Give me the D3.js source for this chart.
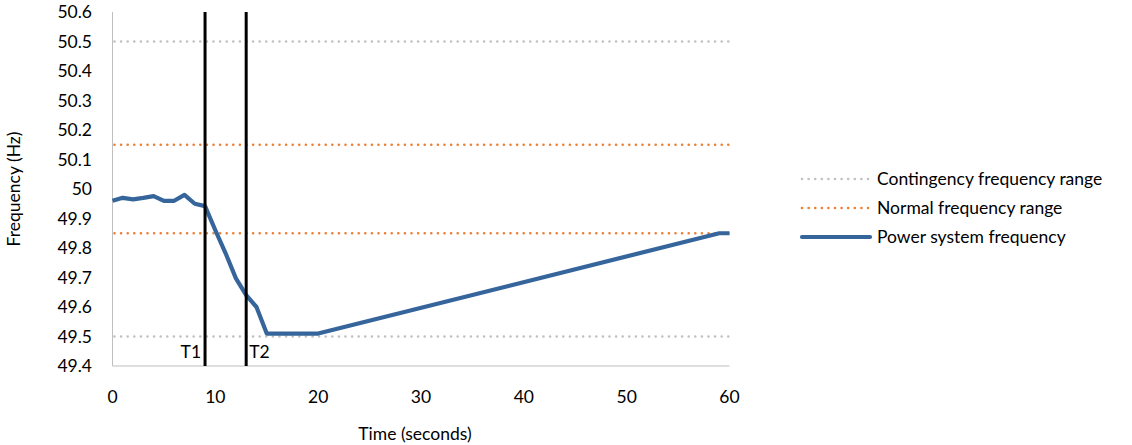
<!DOCTYPE html>
<html><head><meta charset="utf-8">
<script src="https://cdn.jsdelivr.net/npm/d3@7"></script>
<style>
body{margin:0;background:#fff;}
text{font-family:Lato, "Open Sans", sans-serif;fill:#000;}
</style></head>
<body><svg id="c" width="1132" height="445"></svg>
<script>
const timeVals = [0,1,2,3,4,5,6,7,8,9,10,11,12,13,14,15,16,17,18,19,20,59,60];
const freqVals = [49.96,49.97,49.965,49.97,49.976,49.96,49.96,49.98,49.95,49.942,49.86,49.782,49.697,49.64,49.60,49.51,49.51,49.51,49.51,49.51,49.51,49.85,49.85];
const contingency = [49.5, 50.5];
const normal = [49.85, 50.15];
const markers = [{t:9,label:"T1"},{t:13,label:"T2"}];
const xTicks = [0,10,20,30,40,50,60];
const yTicks = [49.4,49.5,49.6,49.7,49.8,49.9,50,50.1,50.2,50.3,50.4,50.5,50.6];
const legendItems = ["Contingency frequency range","Normal frequency range","Power system frequency"];

const FS = "17.5px";
const svg = d3.select("#c");
const x = d3.scaleLinear().domain([0,60]).range([112.5,729.5]);
const y = d3.scaleLinear().domain([49.4,50.6]).range([366,12]);

const g = svg.append("g");
g.append("line").attr("x1",x(0)).attr("x2",x(0)).attr("y1",y(50.6)).attr("y2",y(49.4)).attr("stroke","#bfbfbf").attr("stroke-width",1);
g.append("line").attr("x1",x(0)).attr("x2",x(60)).attr("y1",y(49.4)).attr("y2",y(49.4)).attr("stroke","#bfbfbf").attr("stroke-width",1);

g.selectAll(".yt").data(yTicks).enter().append("text")
 .attr("x",92).attr("y",d=>y(d)).attr("dy","0.35em").attr("text-anchor","end")
 .style("font-size",FS).text(d=>+d.toFixed(1));
g.selectAll(".xt").data(xTicks).enter().append("text")
 .attr("x",d=>x(d)).attr("y",397).attr("dy","0.35em").attr("text-anchor","middle")
 .style("font-size",FS).text(d=>d);

const dotted = (sel,color)=>sel.attr("stroke",color).attr("stroke-width",2.6).attr("stroke-dasharray","0,6.6").attr("stroke-linecap","round").attr("fill","none");
contingency.forEach(v=>dotted(g.append("line").attr("x1",x(0)+2).attr("x2",x(60)).attr("y1",y(v)).attr("y2",y(v)),"#c0c0c0"));
normal.forEach(v=>dotted(g.append("line").attr("x1",x(0)+2).attr("x2",x(60)).attr("y1",y(v)).attr("y2",y(v)),"#ed7d31"));

const data = timeVals.map((t,i)=>[t,freqVals[i]]);
g.append("path").datum(data).attr("fill","none").attr("stroke","#35659b").attr("stroke-width",4.2)
 .attr("stroke-linejoin","round")
 .attr("d",d3.line().x(d=>x(d[0])).y(d=>y(d[1])));

markers.forEach((m,i)=>{
  g.append("line").attr("x1",x(m.t)).attr("x2",x(m.t)).attr("y1",y(50.6)).attr("y2",y(49.4)).attr("stroke","#000").attr("stroke-width",3);
  g.append("text").attr("x",i===0?x(m.t)-4:x(m.t)+3).attr("y",352).attr("dy","0.35em")
   .attr("text-anchor",i===0?"end":"start").style("font-size",FS).text(m.label);
});

svg.append("text").attr("x",415).attr("y",434).attr("dy","0.35em").attr("text-anchor","middle").style("font-size",FS).text("Time (seconds)");
svg.append("text").attr("transform","translate(14,189) rotate(-90)").attr("dy","0.35em").attr("text-anchor","middle").style("font-size",FS).text("Frequency (Hz)");

const ly = [179,208,237];
const lg = svg.append("g");
legendItems.forEach((t,i)=>{
  const ln = lg.append("line").attr("x1",802).attr("x2",870).attr("y1",ly[i]).attr("y2",ly[i]);
  if(i===0) dotted(ln,"#c0c0c0");
  else if(i===1) dotted(ln,"#ed7d31");
  else ln.attr("stroke","#35659b").attr("stroke-width",4.2).attr("stroke-linecap","round");
  lg.append("text").attr("x",877).attr("y",ly[i]).attr("dy","0.35em").style("font-size",FS).text(t);
});
</script></body></html>
